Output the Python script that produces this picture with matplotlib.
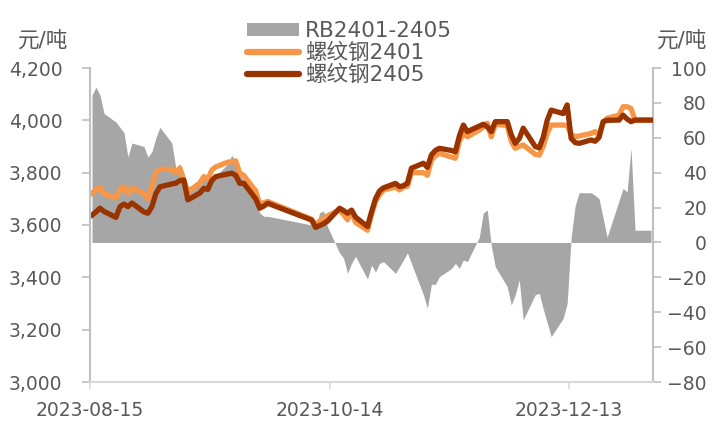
import numpy as np
import pandas as pd
import matplotlib
matplotlib.use("Agg")
import matplotlib.pyplot as plt
from matplotlib.patches import Patch
from matplotlib.lines import Line2D
from matplotlib.ticker import FuncFormatter

plt.rcParams["font.family"] = ["DejaVu Sans", "Noto Sans CJK SC"]

# Trading days shown on the chart.
dates = [
    "2023-08-15", "2023-08-16", "2023-08-17", "2023-08-18", "2023-08-21", "2023-08-22",
    "2023-08-23", "2023-08-24", "2023-08-25", "2023-08-28", "2023-08-29", "2023-08-30",
    "2023-08-31", "2023-09-01", "2023-09-04", "2023-09-05", "2023-09-06", "2023-09-07",
    "2023-09-08", "2023-09-11", "2023-09-12", "2023-09-13", "2023-09-14", "2023-09-15",
    "2023-09-18", "2023-09-19", "2023-09-20", "2023-09-21", "2023-09-22", "2023-09-25",
    "2023-09-26", "2023-09-27", "2023-09-28", "2023-10-09", "2023-10-10", "2023-10-11",
    "2023-10-12", "2023-10-13", "2023-10-16", "2023-10-17", "2023-10-18", "2023-10-19",
    "2023-10-20", "2023-10-23", "2023-10-24", "2023-10-25", "2023-10-26", "2023-10-27",
    "2023-10-30", "2023-10-31", "2023-11-01", "2023-11-02", "2023-11-03", "2023-11-06",
    "2023-11-07", "2023-11-08", "2023-11-09", "2023-11-10", "2023-11-13", "2023-11-14",
    "2023-11-15", "2023-11-16", "2023-11-17", "2023-11-20", "2023-11-21", "2023-11-22",
    "2023-11-23", "2023-11-24", "2023-11-27", "2023-11-28", "2023-11-29", "2023-11-30",
    "2023-12-01", "2023-12-04", "2023-12-05", "2023-12-06", "2023-12-07", "2023-12-08",
    "2023-12-11", "2023-12-12", "2023-12-13", "2023-12-14", "2023-12-15", "2023-12-18",
    "2023-12-19", "2023-12-20", "2023-12-21", "2023-12-22", "2023-12-25", "2023-12-26",
    "2023-12-27", "2023-12-28", "2023-12-29", "2024-01-02",
]

# RB2401-2405 spread (right axis, 元/吨)
spread = [
    84.5, 89, 84.5, 74, 69, 66, 63, 49, 57, 55, 49, 52,
    60, 66, 57, 42.5, 45, 40, 32, 33, 38, 35, 38, 38,
    45, 50, 46, 40, 35, 25, 17, 15, 15, 10, 8, 17,
    18, 9, -6, -9, -17.7, -12, -8, -21, -13, -17, -12, -11,
    -17.7, -14, -10, -6, -12, -30, -37.7, -24, -24, -19.6, -15, -12,
    -14.8, -10, -11, 3, 17, 18.6, -2, -13.9, -25.4, -35.9, -30, -21.5,
    -44.4, -30, -29.2, -38, -46, -54, -43.5, -35, 3, 21, 28.5, 28.5,
    27, 25, 14, 3, 24, 31, 29, 54, 7, 7,
]

# 螺纹钢2401 (left axis)
rb2401 = [
    3721, 3735, 3744, 3720, 3703, 3735, 3746, 3719, 3741, 3720, 3700, 3750,
    3800, 3813, 3813, 3800, 3818, 3770, 3727, 3760, 3785, 3775, 3810, 3822,
    3840, 3842, 3845, 3798, 3790, 3730, 3680, 3685, 3690, 3622, 3600, 3615,
    3625, 3635, 3657, 3640, 3620, 3650, 3610, 3580, 3640, 3690, 3715, 3734,
    3745, 3734, 3745, 3748, 3800, 3800, 3790, 3848, 3865, 3874, 3860, 3855,
    3920, 3950, 3937, 3963, 3975, 3989, 3937, 3985, 3980, 3920, 3893, 3900,
    3906, 3870, 3867, 3900, 3950, 3982, 3982, 3980, 3945, 3938, 3940, 3950,
    3957, 3945, 3990, 4008, 4020, 4052, 4052, 4045, 4001, 4001,
]

# 螺纹钢2405 (left axis)
rb2405 = [
    3638, 3650, 3664, 3652, 3629, 3670, 3680, 3670, 3684, 3650, 3645, 3670,
    3720, 3746, 3757, 3760, 3770, 3772, 3696, 3722, 3740, 3736, 3770, 3785,
    3795, 3798, 3790, 3759, 3760, 3700, 3664, 3672, 3683, 3619, 3591, 3598,
    3605, 3615, 3664, 3655, 3645, 3657, 3630, 3594, 3650, 3700, 3730, 3742,
    3759, 3747, 3750, 3760, 3817, 3836, 3820, 3868, 3885, 3893, 3885, 3880,
    3940, 3982, 3957, 3978, 3985, 3975, 3957, 3995, 3995, 3945, 3912, 3930,
    3970, 3900, 3895, 3935, 4000, 4039, 4026, 4059, 3931, 3915, 3912, 3925,
    3920, 3935, 3995, 4000, 4001, 4020, 4005, 3995, 4001, 4001,
]

tick_dates = ["2023-08-15", "2023-10-14", "2023-12-13"]
left_ticks = [3000, 3200, 3400, 3600, 3800, 4000, 4200]
right_ticks = [-80, -60, -40, -20, 0, 20, 40, 60, 80, 100]

TEXT = "#595959"
AXIS = "#BFBFBF"
GREY = "#A6A6A6"
ORANGE = "#F79646"
DARK = "#993300"
FS = 13.5      # tick labels
FS_LEG = 15.5  # legend and unit labels

x = pd.to_datetime(dates)
half = pd.Timedelta(hours=12)

fig = plt.figure(figsize=(7.15, 4.24), dpi=100)
ax = fig.add_axes([90 / 715, 42 / 424, (653 - 90) / 715, (382 - 68) / 424])
ax2 = ax.twinx()
ax.set_zorder(ax2.get_zorder() + 1)
ax.patch.set_visible(False)

ax2.fill_between(x, spread, 0, color=GREY, linewidth=0)
ax.plot(x, rb2401, color=ORANGE, lw=3.8, solid_joinstyle="round")
ax.plot(x, rb2405, color=DARK, lw=3.8, solid_joinstyle="round")

ax.set_ylim(3000, 4200)
ax2.set_ylim(-80, 100)
ax.set_yticks(left_ticks)
ax2.set_yticks(right_ticks)
ax.yaxis.set_major_formatter(FuncFormatter(lambda v, p: f"{int(v):,}"))

ax.set_xlim(x[0] - half, x[-1] + half)
ax.set_xticks(pd.to_datetime(tick_dates) - half)
ax.set_xticklabels(tick_dates)

for a in (ax, ax2):
    for s in a.spines.values():
        s.set_visible(False)
ax.spines["left"].set_visible(True)
ax.spines["left"].set_color(AXIS)
ax.spines["left"].set_linewidth(1.5)
ax.spines["bottom"].set_visible(True)
ax.spines["bottom"].set_color("#D9D9D9")
ax.spines["bottom"].set_linewidth(1.5)
ax2.spines["right"].set_visible(True)
ax2.spines["right"].set_color(AXIS)
ax2.spines["right"].set_linewidth(1.5)

ax.tick_params(axis="y", length=5.8, width=1.2, color=AXIS, labelsize=FS,
               labelcolor=TEXT, pad=14)
ax.tick_params(axis="x", length=5, width=1.2, color="#D9D9D9", labelsize=FS,
               labelcolor=TEXT, pad=9)
ax2.tick_params(axis="y", length=5.8, width=1.2, color=AXIS, labelsize=FS,
                labelcolor=TEXT, pad=33)
for lbl in ax2.get_yticklabels():
    lbl.set_horizontalalignment("right")

fig.text(43 / 715, 1 - 42 / 424, "元/吨", ha="center", va="center",
         fontsize=FS_LEG, color=TEXT)
fig.text(682 / 715, 1 - 42 / 424, "元/吨", ha="center", va="center",
         fontsize=FS_LEG, color=TEXT)

handles = [
    Patch(facecolor=GREY, edgecolor="none"),
    Line2D([], [], color=ORANGE, lw=4.5, solid_capstyle="round"),
    Line2D([], [], color=DARK, lw=4.5, solid_capstyle="round"),
]
labels = ["RB2401-2405", "螺纹钢2401", "螺纹钢2405"]
leg = fig.legend(handles, labels, loc="upper left",
                 bbox_to_anchor=(247 / 715, 1 - 21 / 424),
                 bbox_transform=fig.transFigure,
                 frameon=False, fontsize=FS_LEG, labelcolor=TEXT, handlelength=2.4,
                 handleheight=0.6, handletextpad=0.3, labelspacing=0.08, borderpad=0,
                 borderaxespad=0)

fig.savefig("out.png", dpi=100)
